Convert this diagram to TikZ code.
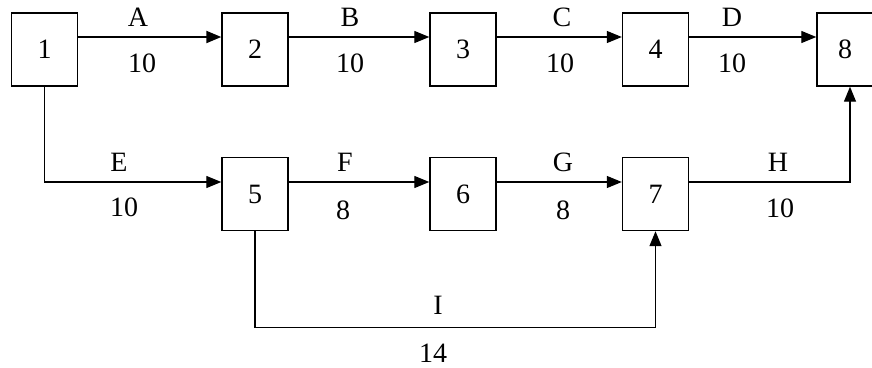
\documentclass[tikz,border=0pt]{standalone}
\usepackage{fontspec}
\setmainfont{Liberation Serif}
\usetikzlibrary{arrows.meta}
\begin{document}
\begin{tikzpicture}[x=1pt,y=-1pt,
  box/.style={draw,line width=1.4pt,minimum width=66pt,minimum height=73pt,inner sep=0pt,font=\fontsize{28}{32}\selectfont},
  lbl/.style={inner sep=0pt,font=\fontsize{28}{32}\selectfont},
  conn/.style={line width=1.3pt,-{Triangle[length=15pt,width=12pt]}}]
\useasboundingbox (0,0) rectangle (872,367);
\clip (0,0) rectangle (872,367);
\fill[white] (0,0) rectangle (872,367);
% boxes
\node[box] (n1) at (44.5,49.5) {1};
\node[box] (n2) at (255,49.5) {2};
\node[box] (n3) at (463,49.5) {3};
\node[box] (n4) at (655.5,49.5) {4};
\node[box] (n8) at (850,49.5) {\hspace*{-10pt}8};
\node[box] (n5) at (255,194) {5};
\node[box] (n6) at (463,194) {6};
\node[box] (n7) at (655.5,194) {7};
% connectors
\draw[conn,line width=2pt] ([yshift=12.5pt]n1.east) -- ([yshift=12.5pt]n2.west);
\draw[conn] ([yshift=12.5pt]n2.east) -- ([yshift=12.5pt]n3.west);
\draw[conn] ([yshift=12.5pt]n3.east) -- ([yshift=12.5pt]n4.west);
\draw[conn] ([yshift=12.5pt]n4.east) -- ([yshift=12.5pt]n8.west);
\draw[conn] (n1.south) |- ([yshift=12pt]n5.west);
\draw[conn] ([yshift=12pt]n5.east) -- ([yshift=12pt]n6.west);
\draw[conn] ([yshift=12pt]n6.east) -- ([yshift=12pt]n7.west);
\draw[conn] ([yshift=12pt]n7.east) -| (n8.south);
\draw[conn] (n5.south) -- ++(0,96) -| (n7.south);
% labels
\node[lbl] (la) at (138,17) {A};
\node[lbl] (la2) at (142,63) {10};
\node[lbl] (lb) at (350,17) {B};
\node[lbl] (lb2) at (350,63) {10};
\node[lbl] (lc) at (562,17) {C};
\node[lbl] (lc2) at (560,63) {10};
\node[lbl] (ld) at (732,17) {D};
\node[lbl] (ld2) at (732,63) {10};
\node[lbl] (le) at (119,162) {E};
\node[lbl] (le2) at (124,207) {10};
\node[lbl] (lf) at (345,162) {F};
\node[lbl] (lf2) at (343,210) {8};
\node[lbl] (lg) at (563,162) {G};
\node[lbl] (lg2) at (563,210) {8};
\node[lbl] (lh) at (778,162) {H};
\node[lbl] (lh2) at (780,208) {10};
\node[lbl] (li) at (438,305) {I};
\node[lbl] (li2) at (433,353) {14};
\end{tikzpicture}
\end{document}
